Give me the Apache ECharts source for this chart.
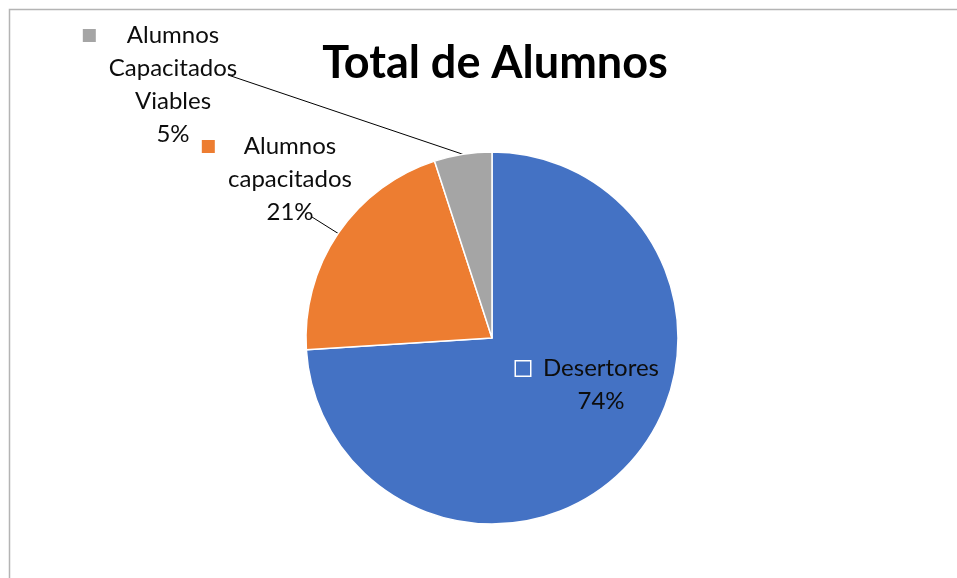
<!DOCTYPE html>
<html>
<head>
<meta charset="utf-8">
<script src="https://cdn.jsdelivr.net/npm/echarts@6/dist/echarts.min.js"></script>
<style>
  html, body { margin:0; padding:0; background:#fff; }
  #main { width:957px; height:578px; }
</style>
</head>
<body>
<div id="main"></div>
<script>
// data
var categories = ['Desertores', 'Alumnos capacitados', 'Alumnos Capacitados Viables'];
var labelLines = [['Desertores'], ['Alumnos', 'capacitados'], ['Alumnos', 'Capacitados', 'Viables']];
var values = [74, 21, 5];
var colors = ['#4472C4', '#ED7D31', '#A5A5A5'];

// label placement (like the excel chart) : [centerX, top, lineStartX, lineStartY]
var labelPos = [
  [601, 352, null, null],
  [290, 130, 312, 217],
  [173, 19, 228, 75]
];
var gaps = [13, 29, 31];

function makeLabel(idx){
  var lines = labelLines[idx];
  var s = '{m' + idx + '|}{g' + idx + '|}{t|' + lines[0] + '}{b' + idx + '|}';
  for(var i = 1; i < lines.length; i++){
    s += '\n{t|' + lines[i] + '}';
  }
  return s + '\n{t|' + values[idx] + '%}';
}

var rich = { t: { fontFamily:'Lato', fontSize:24, color:'#0d0d0d', lineHeight:33 } };
for(var k = 0; k < categories.length; k++){
  var mw = k == 0 ? 14 : 13;
  rich['m' + k] = { width:mw, height:mw, backgroundColor:colors[k],
    borderColor: k == 0 ? '#ffffff' : 'transparent', borderWidth: k == 0 ? 1.5 : 0 };
  rich['g' + k] = { width:gaps[k] };
  rich['b' + k] = { width:mw + gaps[k] };
}

var pieData = [];
for(var i = 0; i < categories.length; i++){
  pieData.push({
    name: categories[i],
    value: values[i],
    itemStyle: { color: colors[i] },
    label: { formatter: makeLabel(i) },
    labelLine: { show: i != 0 }
  });
}

var myChart = echarts.init(document.getElementById('main'));
var chartOpt = {
  animation: false,
  title: {
    text: 'Total de Alumnos',
    left: 490, top: 36, textAlign: 'center',
    textStyle: { fontFamily:'Lato', fontWeight:'bold', fontSize:45, color:'#000' }
  },
  graphic: [
    { type:'rect', shape:{ x:9.5, y:9.5, width:980, height:600 },
      style:{ fill:'none', stroke:'#b4b4b4', lineWidth:1.5 }, silent:true }
  ],
  series: [{
    type: 'pie',
    center: [492, 338],
    radius: 186,
    startAngle: 90,
    clockwise: true,
    percentPrecision: 0,
    avoidLabelOverlap: false,
    itemStyle: { borderColor:'#ffffff', borderWidth:1.5 },
    label: { show:true, position:'outside', rich: rich, align:'center' },
    labelLine: { show:true, length:10, length2:10, lineStyle:{ color:'#000', width:1 } },
    labelLayout: function(params){
      var p = labelPos[params.dataIndex];
      var res = { x:p[0], y:p[1], align:'center', verticalAlign:'top' };
      if(p[2] !== null && params.labelLinePoints){
        res.labelLinePoints = [[p[2], p[3]], params.labelLinePoints[0]];
      }
      return res;
    },
    data: pieData
  }]
};
myChart.setOption(chartOpt);
</script>
</body>
</html>
